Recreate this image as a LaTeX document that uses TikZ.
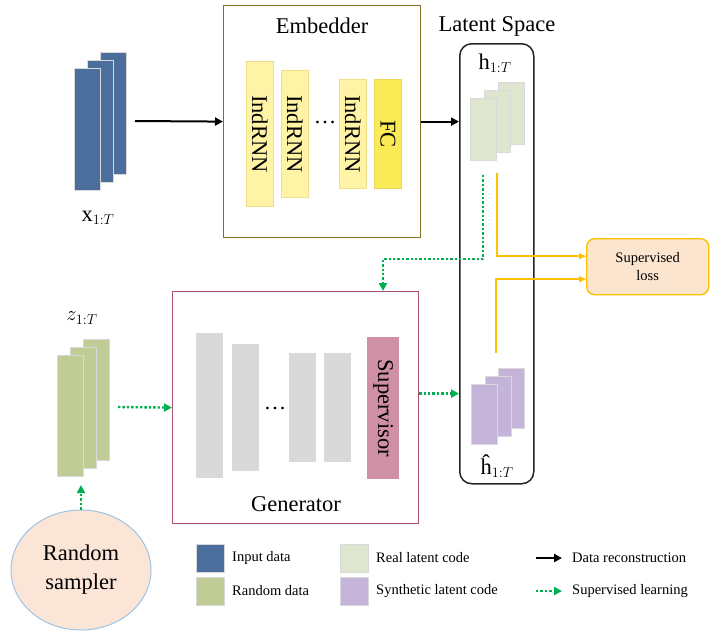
\documentclass[tikz,border=0pt]{standalone}
\usepackage{fontspec}
\setmainfont{Liberation Serif}
\newfontfamily\labelserif{Liberation Serif}
\usetikzlibrary{arrows.meta,shapes.geometric}

\definecolor{inblue}{HTML}{4C6E9C}
\definecolor{rndgreen}{HTML}{BFCC96}
\definecolor{realgreen}{HTML}{DFE6D0}
\definecolor{synpurple}{HTML}{C4B4D9}
\definecolor{indyellow}{HTML}{FFF4A6}
\definecolor{indedge}{HTML}{F0DF86}
\definecolor{fcyellow}{HTML}{FAEA55}
\definecolor{fcedge}{HTML}{EDD85C}
\definecolor{genlayer}{HTML}{D9D9D9}
\definecolor{supfill}{HTML}{CF8FA4}
\definecolor{genedge}{HTML}{A8506E}
\definecolor{embedge}{HTML}{7F7024}
\definecolor{supgreen}{HTML}{00B050}
\definecolor{lossyellow}{HTML}{FFC000}
\definecolor{lossfill}{HTML}{FBE5CF}
\definecolor{rsfill}{HTML}{FBE5D6}
\definecolor{rsedge}{HTML}{9DC3E6}

\tikzset{
  blk/.style={rectangle, inner sep=0pt, anchor=north west},
  sheet/.style={blk, draw=white!85!black, line width=0.8pt},
  layer/.style={blk, line width=0.8pt},
  big/.style={font=\labelserif\fontsize{22.5}{26}\selectfont},
  small/.style={font=\labelserif\fontsize{14.5}{17}\selectfont},
  dataarrow/.style={line width=2pt, -{Triangle[length=8pt,width=8pt]}},
  suparrow/.style={draw=supgreen, line width=2.4pt, dash pattern=on 2.4pt off 2pt,
                   -{Triangle[length=8pt,width=8pt]}},
  lossarrow/.style={draw=lossyellow, line width=1.5pt, -{Triangle[length=7pt,width=6pt]}},
  legsq/.style={blk, draw=white!85!black, line width=0.8pt, minimum width=28pt, minimum height=28pt},
  legtxt/.style={small, anchor=west, inner sep=0pt},
}

\begin{document}
\begin{tikzpicture}[x=1pt, y=-1pt]
\useasboundingbox (0,0) rectangle (715,633);

% ---------- input sequence x ----------
\node[sheet, fill=inblue, minimum width=26pt, minimum height=122pt] (xb) at (100,52) {};
\node[sheet, fill=inblue, minimum width=26pt, minimum height=122pt] (xm) at (87,60) {};
\node[sheet, fill=inblue, minimum width=26pt, minimum height=122pt] (xf) at (74,68) {};
\node[big] (xlab) at (98,218) {x$_{1:T}$};

% ---------- embedder ----------
\node[blk, draw=embedge, line width=1.2pt, minimum width=197pt, minimum height=232pt] (emb) at (223,5) {};
\node[big] (embt) at (322,26) {Embedder};
\node[layer, fill=indyellow, draw=indedge, minimum width=27pt, minimum height=145pt] (ind1) at (246,61) {};
\node[layer, fill=indyellow, draw=indedge, minimum width=27pt, minimum height=127pt] (ind2) at (281,70) {};
\node[layer, fill=indyellow, draw=indedge, minimum width=27pt, minimum height=109pt] (ind3) at (339,79) {};
\node[layer, fill=fcyellow, draw=fcedge, minimum width=27pt, minimum height=109pt] (fc) at (374,79) {};
\node[big, rotate=-90] (ind1t) at (ind1.center) {IndRNN};
\node[big, rotate=-90] (ind2t) at (ind2.center) {IndRNN};
\node[big, rotate=-90] (ind3t) at (ind3.center) {IndRNN};
\node[big, rotate=-90] (fct) at (fc.center) {FC};
\node[big] (edots) at (325,122) {…};

% ---------- latent space ----------
\node[big] (latt) at (497,26) {Latent Space};
\node[blk, draw=black!85, line width=1.5pt, rounded corners=12pt,
      minimum width=74pt, minimum height=440pt] (lat) at (459,43) {};
\node[big] (hlab) at (495,63) {h$_{1:T}$};
\node[sheet, fill=realgreen, minimum width=26pt, minimum height=62pt] (hb) at (498,82) {};
\node[sheet, fill=realgreen, minimum width=26pt, minimum height=62pt] (hm) at (484,90) {};
\node[sheet, fill=realgreen, minimum width=26pt, minimum height=62pt] (hf) at (470,98) {};
\node[sheet, fill=synpurple, minimum width=26pt, minimum height=60pt] (sb) at (498,368) {};
\node[sheet, fill=synpurple, minimum width=26pt, minimum height=60pt] (sm) at (485,376) {};
\node[sheet, fill=synpurple, minimum width=26pt, minimum height=60pt] (sf) at (471,384) {};
\node[big, inner sep=1pt] (shlab) at (497,466) {ĥ$_{1:T}$};

% ---------- supervised loss ----------
\node[blk, draw=lossyellow, fill=lossfill, line width=1.4pt, rounded corners=8pt,
      minimum width=122pt, minimum height=56pt] (loss) at (586,238) {};
\node[align=center, font=\labelserif\fontsize{14.5}{18}\selectfont] (losst) at (loss.center) {Supervised\\loss};

% ---------- random input z ----------
\node[big] (zlab) at (82,318) {$z_{1:T}$};
\node[sheet, fill=rndgreen, minimum width=26pt, minimum height=121pt] (zb) at (83,339) {};
\node[sheet, fill=rndgreen, minimum width=26pt, minimum height=121pt] (zm) at (70,347) {};
\node[sheet, fill=rndgreen, minimum width=26pt, minimum height=121pt] (zf) at (57,355) {};

\node[ellipse, draw=rsedge, fill=rsfill, line width=1pt, minimum width=140pt, minimum height=120pt,
      align=center, font=\labelserif\fontsize{22.5}{29}\selectfont] (rs) at (81,570) {Random\\sampler};

% ---------- generator ----------
\node[blk, draw=genedge, line width=1.2pt, minimum width=246pt, minimum height=232pt] (gen) at (172,291) {};
\node[big] (gent) at (296,504) {Generator};
\node[blk, fill=genlayer, minimum width=27pt, minimum height=145pt] (g1) at (196,333) {};
\node[blk, fill=genlayer, minimum width=27pt, minimum height=127pt] (g2) at (232,344) {};
\node[blk, fill=genlayer, minimum width=27pt, minimum height=109pt] (g3) at (289,353) {};
\node[blk, fill=genlayer, minimum width=27pt, minimum height=109pt] (g4) at (324,353) {};
\node[blk, fill=supfill, minimum width=32pt, minimum height=142pt] (sup) at (367,337) {};
\node[big, rotate=-90] (supt) at (sup.center) {Supervisor};
\node[big] (gdots) at (275,408) {…};

% ---------- connectors ----------
\coordinate (xout) at (135,121);
\draw[dataarrow] (xout) -- (emb.west);
\draw[dataarrow] (emb.east) -- (emb.east -| lat.west);

\coordinate (hout) at (483,175);
\coordinate (gturn) at (383,259);
\draw[suparrow] (hout) |- (gturn) -- (gturn |- gen.north);

\coordinate (hloss) at (497,173);
\coordinate (sloss) at (496,353);
\draw[lossarrow] (hloss) |- ([yshift=10.5pt]loss.west);
\draw[lossarrow] (sloss) |- ([yshift=-12.5pt]loss.west);

\coordinate (zout) at (118,407);
\draw[suparrow] (zout) -- (gen.west);
\coordinate (g2l) at ([yshift=14pt]gen.east);
\draw[suparrow] (g2l) -- (g2l -| lat.west);

\coordinate (zin) at (81,485);
\draw[suparrow] (rs.north) -- (zin);

% ---------- legend ----------
\node[legsq, fill=inblue] (lg1) at (196,544) {};
\node[legtxt] (lt1) at (232,558) {Input data};
\node[legsq, fill=rndgreen] (lg2) at (196,577) {};
\node[legtxt] (lt2) at (232,591) {Random data};
\node[legsq, fill=realgreen] (lg3) at (340,544) {};
\node[legtxt] (lt3) at (376,558) {Real latent code};
\node[legsq, fill=synpurple] (lg4) at (340,577) {};
\node[legtxt] (lt4) at (376,591) {Synthetic latent code};
\coordinate (la1) at (536,558);
\coordinate (lb1) at (562,558);
\draw[dataarrow] (la1) -- (lb1);
\node[legtxt] (lt5) at (572,558) {Data reconstruction};
\coordinate (la2) at (536,591);
\coordinate (lb2) at (562,591);
\draw[suparrow] (la2) -- (lb2);
\node[legtxt] (lt6) at (572,591) {Supervised learning};
\end{tikzpicture}
\end{document}
